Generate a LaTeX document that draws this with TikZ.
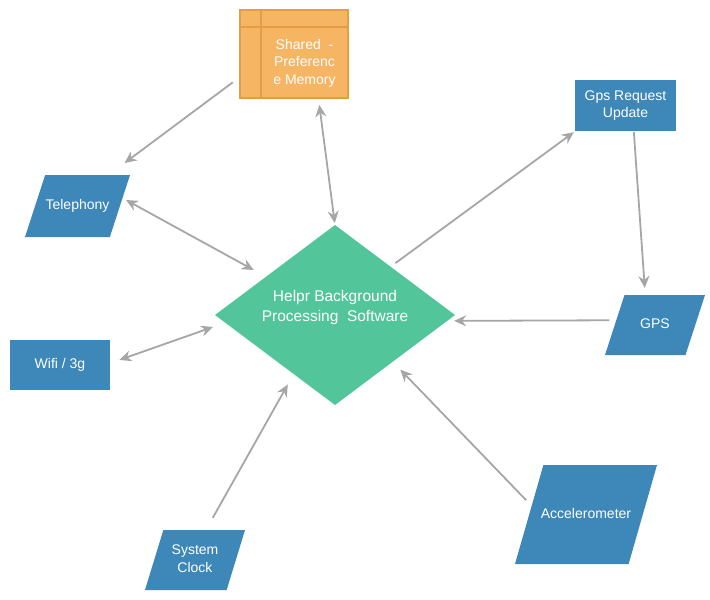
\documentclass[tikz,border=0pt]{standalone}
\usepackage{fontspec}
\setmainfont{Liberation Sans}
\usepackage{xcolor}
\usetikzlibrary{arrows,arrows.meta,shapes.geometric,calc}
\definecolor{c1}{RGB}{61,135,185}
\definecolor{c2}{RGB}{82,198,154}
\definecolor{c3}{RGB}{245,181,99}
\definecolor{c4}{RGB}{226,158,70}
\definecolor{c5}{RGB}{166,166,166}

\begin{document}
\begin{tikzpicture}[x=1pt, y=-1pt, >={Stealth[length=12pt,width=11pt,inset=4pt]}, line width=1.8pt]
\tikzset{every node/.style={text=white, align=center, outer sep=0pt, font=\fontsize{14}{17.5}\selectfont},
         io/.style={trapezium, trapezium stretches body, trapezium left angle=#1, trapezium right angle=180-#1,
                    fill=c1, inner xsep=0pt, text height=10pt, text depth=3pt},
         box/.style={rectangle, fill=c1, inner sep=2pt},
         mem/.style={rectangle, fill=c3, draw=c4, line width=1.5pt, minimum width=108pt, minimum height=88pt},
         proc/.style={diamond, fill=c2, inner sep=0pt, minimum width=240pt, minimum height=180pt}}
\useasboundingbox (0,0) rectangle (710,600);

\node[mem]  (mem)   at (294,54)    {};
\draw[c4, line width=1.5pt] ($(mem.north west)+(21,0)$) -- ($(mem.south west)+(21,0)$)
                            ($(mem.north west)+(0,17)$) -- ($(mem.north east)+(0,17)$);
\node       (memtxt) at (304.5,63) {Shared\ \ -\\Preferenc\\e Memory};
\node[proc] (dia)   at (335,315)   {};
\node[font=\fontsize{15.5}{20}\selectfont] (diatxt) at (335,307) {Helpr Background\\Processing\ \ Software};
\node[io=72, minimum width=105pt, inner ysep=24.5pt] (tel)   at (77.5,206) {Telephony};
\node[box, minimum width=100pt, minimum height=50pt] (wifi)  at (60,365)   {Wifi / 3g};
\node[io=73, minimum width=100pt, inner ysep=14.75pt, text height=27.5pt] (clock) at (195,560) {System\\Clock};
\node[io=74, minimum width=142pt, inner ysep=43pt, inner xsep=-3pt] (acc) at (586,514.5) {Accelerometer};
\node[io=72, minimum width=100pt, inner ysep=23.5pt] (gps)   at (655,325)  {GPS};
\node[box, minimum width=101pt, minimum height=51pt] (req)   at (625.5,105.5) {Gps Request\\Update};

\draw[c5]
(mem.203)   edge[->, shorten <=9pt, shorten >=20pt]   (tel.45)
(mem.299)   edge[<->, shorten <=7pt, shorten >=2pt]   (dia.north)
(tel.10)    edge[<->, shorten <=4pt, shorten >=14pt]  (dia.151)
(wifi.2)    edge[<->, shorten <=10pt, shorten >=13pt] (dia.184)
(clock.70)  edge[->, shorten <=14pt, shorten >=12pt]  (dia.235)
(acc.171)   edge[->, shorten <=8pt, shorten >=11pt]   (dia.321)
(gps.173)   edge[->, shorten <=7pt, shorten >=7pt]    (dia.357)
(dia.41)    edge[->, shorten <=6pt, shorten >=2pt]    (req.207)
(req.288)   edge[->, shorten <=1pt, shorten >=7pt]    (gps.108);
\end{tikzpicture}
\end{document}
